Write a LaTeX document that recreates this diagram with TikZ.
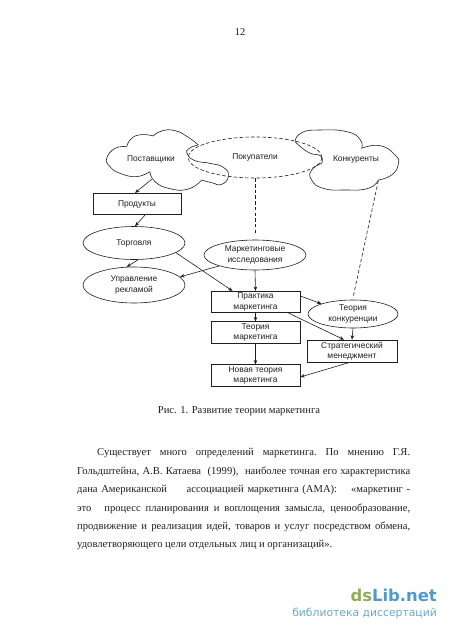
\documentclass[tikz,border=0pt]{standalone}
\usepackage{fontspec}
\setmainfont{Liberation Serif}
\newfontfamily\diagfont{Liberation Sans}
\newfontfamily\markfont{DejaVu Sans}
\usetikzlibrary{shapes.geometric,arrows.meta}
\definecolor{inkc}{gray}{0.12}
\definecolor{dsgreen}{HTML}{8FAE57}
\definecolor{dsblue}{HTML}{4C9BCB}
\definecolor{dsblue2}{HTML}{6FA6CF}
\tikzset{
  lbl/.style={inner sep=0pt,align=center,text=inkc,font=\diagfont\fontsize{8.4}{10.3}\selectfont},
  rbox/.style={lbl,draw=inkc,line width=0.6pt,rectangle,minimum width=89pt,minimum height=21.5pt},
  oval/.style={lbl,draw=inkc,line width=0.6pt,ellipse},
  flow/.style={draw=inkc,line width=0.6pt,-{Stealth[length=4.5pt,width=3.6pt]}},
  link/.style={draw=inkc,line width=0.6pt,dash pattern=on 3.5pt off 2.2pt},
  cloudline/.style={draw=inkc,line width=0.6pt},
  bodytext/.style={inner sep=0pt,anchor=north west,text width=333pt,align=justify,text=inkc,font=\fontsize{10.6}{18.4}\selectfont}
}
\begin{document}
\begin{tikzpicture}[x=1pt,y=-1pt]
\useasboundingbox (0,0) rectangle (450,632);
\fill[white] (0,0) rectangle (450,632);
\node[inner sep=0pt,text=inkc,font=\fontsize{10.5}{12}\selectfont] (pagenum) at (240,32) {12};
% clouds (coordinates in 3x crop units)
\begin{scope}[shift={(90,130)},x=0.33333pt,y=-0.33333pt]
  \path[cloudline] plot[smooth,tension=.8] coordinates {(110,50) (75,55) (50,85) (60,110) (90,130) (140,140) (180,125)};
  \path[cloudline] plot[smooth,tension=.9] coordinates {(110,50) (125,25) (155,14) (190,18)};
  \path[cloudline] plot[smooth,tension=.9] coordinates {(190,18) (215,3) (255,2) (295,22) (325,45)};
  \path[cloudline] plot[smooth,tension=.9] coordinates {(325,45) (298,55) (292,72) (315,92) (360,100) (400,112) (415,138) (395,163) (365,158) (335,150)};
  \path[cloudline] plot[smooth,tension=.9] coordinates {(335,150) (295,177) (240,176) (195,155) (180,125)};
  \path[cloudline] plot[smooth,tension=.9] coordinates {(615,35) (635,8) (690,0) (770,5) (810,28) (815,55)};
  \path[cloudline] plot[smooth,tension=.9] coordinates {(815,55) (870,47) (915,75) (925,102) (905,135) (865,150)};
  \path[cloudline] plot[smooth,tension=.9] coordinates {(865,150) (835,175) (765,180) (700,175) (665,150) (665,120) (695,100)};
  \path[cloudline] plot[smooth,tension=.9] coordinates {(695,100) (692,78) (655,67) (615,35)};
  \coordinate (supout) at (185,148);
  \coordinate (konout) at (865,152);
\end{scope}
\node[lbl] (sup) at (151,159) {Поставщики};
\node[lbl] (kon) at (356,159) {Конкуренты};
\node[lbl,ellipse,draw=inkc,line width=0.6pt,dash pattern=on 3.5pt off 2.2pt,minimum width=134pt,minimum height=41pt] (pok) at (255,157.5) {Покупатели};
\node[rbox,minimum width=88pt] (prod) at (137,204) {Продукты};
\node[oval,minimum width=102pt,minimum height=33pt] (torg) at (134,243) {Торговля};
\node[oval,minimum width=102pt,minimum height=30pt] (mark) at (255,255) {Маркетинговые\\исследования};
\node[oval,minimum width=102pt,minimum height=36pt] (upr) at (134,285) {Управление\\рекламой};
\node[rbox] (prak) at (255.5,302) {Практика\\маркетинга};
\node[rbox] (teor) at (255.5,332.5) {Теория\\маркетинга};
\node[rbox] (nov) at (255.5,375.5) {Новая теория\\маркетинга};
\node[oval,minimum width=90pt,minimum height=28pt] (konk) at (353,314) {Теория\\конкуренции};
\node[rbox,minimum width=90pt,minimum height=22pt] (str) at (352,351) {Стратегический\\менеджмент};
% connectors
\draw[flow] (supout) -- ([xshift=-2pt]prod.north);
\draw[flow] ([xshift=8pt]prod.south) -- ([xshift=1pt]torg.north);
\draw[flow] (torg.-76) -- (upr.112);
\draw[flow] (torg.-13) -- ([xshift=-23pt]prak.north);
\draw[flow] (mark.-163) -- (upr.10);
\draw[flow] (mark.south) -- (prak.north);
\draw[flow] (prak.east |- 296,296) -- (konk.162);
\draw[flow] ([xshift=33pt]prak.south) -- ([xshift=-8pt]str.north);
\draw[flow] (konk.south) -- (str.north);
\draw[flow] (prak.south) -- (teor.north);
\draw[flow] (teor.south) -- (nov.north);
\draw[flow] ([xshift=-2pt]str.south) -- ([yshift=-1.5pt]nov.east);
\draw[link] (pok.south) -- ([yshift=5pt]mark.north);
\draw[link] (konout) -- ([yshift=2pt]konk.north);
% caption and text
\node[inner sep=0pt,text=inkc,font=\fontsize{10.6}{12}\selectfont] (cap) at (239,411) {Рис. 1. Развитие теории маркетинга};
\node[bodytext] (body) at (77,448.5) {\hspace*{20pt}Существует\ \ много\ \ определений\ \ маркетинга.\ \ По\ \ мнению\ \ Г.Я.\linebreak
Гольдштейна, А.В. Катаева\ \ (1999),\ \ наиболее точная его характеристика\linebreak
дана Американской\hspace{16pt} ассоциацией маркетинга (АМА):\hspace{14pt}«маркетинг -\linebreak
это\hspace{8pt} процесс планирования и воплощения замысла, ценообразование,\linebreak
продвижение и реализация идей, товаров и услуг посредством обмена,\linebreak
удовлетворяющего цели отдельных лиц и организаций».\par};
% watermark
\node[inner sep=0pt,anchor=base east,font=\markfont\bfseries\fontsize{16.4}{20}\selectfont] (wm) at (437,601) {\textcolor{dsgreen}{ds}\textcolor{dsblue}{Lib.net}};
\node[inner sep=0pt,anchor=base east,text=dsblue2,font=\markfont\fontsize{10.8}{13}\selectfont] (wmsub) at (437,616) {библиотека диссертаций};
\end{tikzpicture}
\end{document}
